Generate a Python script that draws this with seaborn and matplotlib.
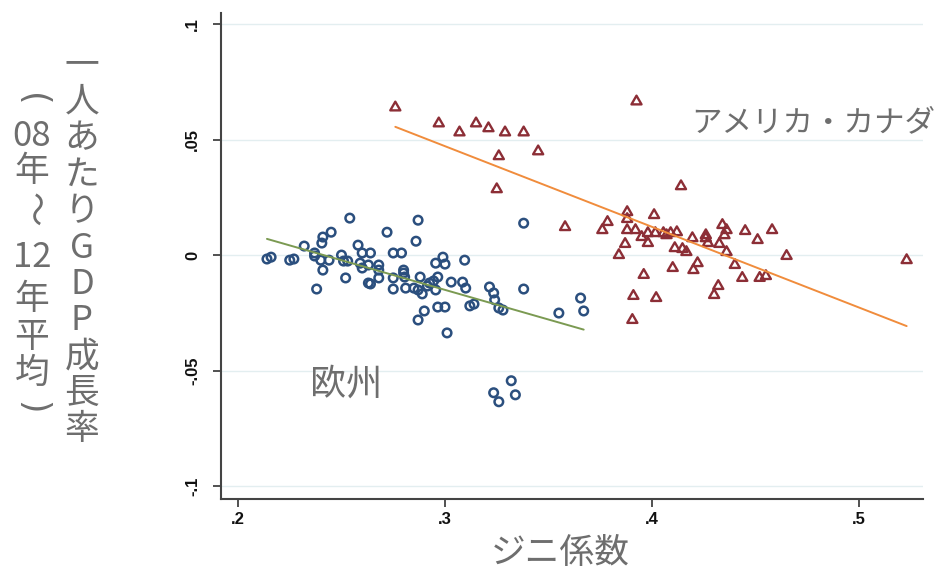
import numpy as np
import pandas as pd
import matplotlib.pyplot as plt
import seaborn as sns

# 欧州 (hollow circles)
eu_gini = [0.214, 0.216, 0.225, 0.227, 0.232, 0.237, 0.237, 0.241, 0.2405, 0.245,
           0.254, 0.241, 0.238, 0.240, 0.244, 0.250, 0.251, 0.253, 0.252, 0.258,
           0.260, 0.264, 0.259, 0.263, 0.260, 0.268, 0.268, 0.268, 0.263, 0.264,
           0.272, 0.275, 0.279, 0.275, 0.280, 0.280, 0.2805, 0.275, 0.281, 0.285,
           0.287, 0.289, 0.287, 0.286, 0.288, 0.290, 0.287, 0.2955, 0.299, 0.300,
           0.3095, 0.2965, 0.2945, 0.2925, 0.2915, 0.2955, 0.2965, 0.300, 0.301, 0.303,
           0.3085, 0.310, 0.3215, 0.3235, 0.324, 0.314, 0.312, 0.326, 0.328, 0.338,
           0.338, 0.355, 0.3655, 0.367, 0.332, 0.3235, 0.334, 0.326]
eu_growth = [-0.0017, -0.0009, -0.0022, -0.0017, 0.0039, 0.0009, -0.0004, 0.0078, 0.0052, 0.0099,
             0.0160, -0.0065, -0.0147, -0.0022, -0.0022, 0.0000, -0.0026, -0.0026, -0.0099, 0.0043,
             0.0009, 0.0009, -0.0035, -0.0043, -0.0056, -0.0043, -0.0065, -0.0099, -0.0121, -0.0125,
             0.0099, 0.0009, 0.0009, -0.0099, -0.0065, -0.0078, -0.0095, -0.0147, -0.0143, -0.0143,
             -0.0151, -0.0168, 0.0151, 0.0060, -0.0095, -0.0242, -0.0281, -0.0035, -0.0009, -0.0039,
             -0.0022, -0.0095, -0.0112, -0.0121, -0.0134, -0.0151, -0.0225, -0.0225, -0.0337, -0.0117,
             -0.0117, -0.0143, -0.0138, -0.0164, -0.0194, -0.0212, -0.0220, -0.0229, -0.0238, -0.0147,
             0.0138, -0.0251, -0.0186, -0.0242, -0.0544, -0.0596, -0.0605, -0.0635]

# アメリカ・カナダ (hollow triangles)
am_gini = [0.276, 0.297, 0.307, 0.315, 0.321, 0.329, 0.338, 0.345, 0.326, 0.325,
           0.358, 0.3925, 0.414, 0.388, 0.401, 0.3785, 0.388, 0.376, 0.388, 0.392,
           0.395, 0.398, 0.4016, 0.4055, 0.409, 0.412, 0.407, 0.398, 0.387, 0.384,
           0.4195, 0.426, 0.426, 0.427, 0.434, 0.436, 0.435, 0.4325, 0.436, 0.445,
           0.451, 0.458, 0.411, 0.4147, 0.4166, 0.465, 0.523, 0.422, 0.420, 0.410,
           0.440, 0.396, 0.4436, 0.452, 0.455, 0.432, 0.430, 0.391, 0.402, 0.3905]
am_growth = [0.0639, 0.0570, 0.0531, 0.0570, 0.0549, 0.0531, 0.0531, 0.0449, 0.0428, 0.0285,
             0.0121, 0.0665, 0.0298, 0.0186, 0.0173, 0.0143, 0.0156, 0.0108, 0.0108, 0.0108,
             0.0078, 0.0095, 0.0095, 0.0095, 0.0095, 0.0099, 0.0086, 0.0052, 0.0048, 0.0000,
             0.0073, 0.0086, 0.0073, 0.0052, 0.0130, 0.0108, 0.0086, 0.0048, 0.0013, 0.0104,
             0.0065, 0.0108, 0.0030, 0.0026, 0.0013, -0.0004, -0.0022, -0.0035, -0.0065, -0.0056,
             -0.0043, -0.0086, -0.0099, -0.0099, -0.0091, -0.0134, -0.0173, -0.0177, -0.0186, -0.0281]

x_ticks = [0.2, 0.3, 0.4, 0.5]
x_ticklabels = [".2", ".3", ".4", ".5"]
y_ticks = [-0.1, -0.05, 0, 0.05, 0.1]
y_ticklabels = ["-.1", "-.05", "0", ".05", ".1"]

ylabel_main = ["一", "人", "あ", "た", "り", "G", "D", "P", "成", "長", "率"]
ylabel_sub = ["(", "08", "年", "～", "12", "年", "平", "均", ")"]

navy = "#2b4f7e"
maroon = "#8c2e36"
green = "#7b9a52"
orange = "#f08c3c"
gray = "#6e6e6e"

sns.set_style("white")
plt.rcParams['font.family'] = ['Noto Sans CJK JP', 'DejaVu Sans']

fig = plt.figure(figsize=(9.43, 5.72), dpi=100)
ax = fig.add_axes([221 / 943, 1 - 499 / 572, 702 / 943, 486 / 572])

eu = pd.DataFrame({"gini": eu_gini, "growth": eu_growth})
am = pd.DataFrame({"gini": am_gini, "growth": am_growth})

# grid lines at the y ticks
for yv in y_ticks:
    ax.axhline(yv, color="#e3eef0", lw=1.0, zorder=0)

sns.scatterplot(data=eu, x="gini", y="growth", ax=ax, marker="o", s=38,
                facecolor="none", edgecolor=navy, linewidth=1.8, zorder=3)
sns.scatterplot(data=am, x="gini", y="growth", ax=ax, marker=(3, 0, 0), s=70,
                facecolor="none", edgecolor=maroon, linewidth=1.7, zorder=3)

sns.regplot(data=eu, x="gini", y="growth", ax=ax, scatter=False, ci=None,
            color=green, line_kws={"lw": 1.4, "zorder": 4})
sns.regplot(data=am, x="gini", y="growth", ax=ax, scatter=False, ci=None,
            color=orange, line_kws={"lw": 1.4, "zorder": 4})

ax.set_xlim(0.1918, 0.5309)
ax.set_ylim(-0.1056, 0.1048)
ax.set_xticks(x_ticks)
ax.set_xticklabels(x_ticklabels, fontsize=12, family="Liberation Sans", weight="bold")
ax.set_yticks(y_ticks)
ax.set_yticklabels(y_ticklabels, fontsize=12, family="Liberation Sans", weight="bold",
                   rotation=90, va="center")
ax.tick_params(axis="both", direction="out", length=6, width=1.2,
               color="#333333", labelcolor="#111111", left=True, bottom=True)
ax.tick_params(axis="y", pad=9)
ax.tick_params(axis="x", pad=3)
ax.set_xlabel("")
ax.set_ylabel("")
sns.despine(ax=ax)
for side in ["left", "bottom"]:
    ax.spines[side].set_color("#444444")
    ax.spines[side].set_linewidth(1.5)

ax.text(0.478, 0.0575, "アメリカ・カナダ", fontsize=22, color=gray,
        ha="center", va="center")
ax.text(0.252, -0.0562, "欧州", fontsize=26, color=gray,
        ha="center", va="center")

fig.text(560 / 943, 1 - 553 / 572, "ジニ係数", fontsize=25, color=gray,
         ha="center", va="center")

# vertical y-axis label, one character per row
for i, ch in enumerate(ylabel_main):
    fig.text(82 / 943, 1 - (66 + 36.4 * i) / 572, ch, fontsize=25, color=gray,
             ha="center", va="center")
sub_rows = [100, 137, 172, 209, 257, 300, 337, 373, 408]
for ch, row in zip(ylabel_sub, sub_rows):
    rot = -90 if ch in ("(", ")", "～") else 0
    fam = ["DejaVu Sans"] if ch in ("(", ")") else None
    fig.text(32 / 943, 1 - row / 572, ch, fontsize=25, color=gray,
             ha="center", va="center", rotation=rot, family=fam)

fig.savefig("out.png", dpi=100)
